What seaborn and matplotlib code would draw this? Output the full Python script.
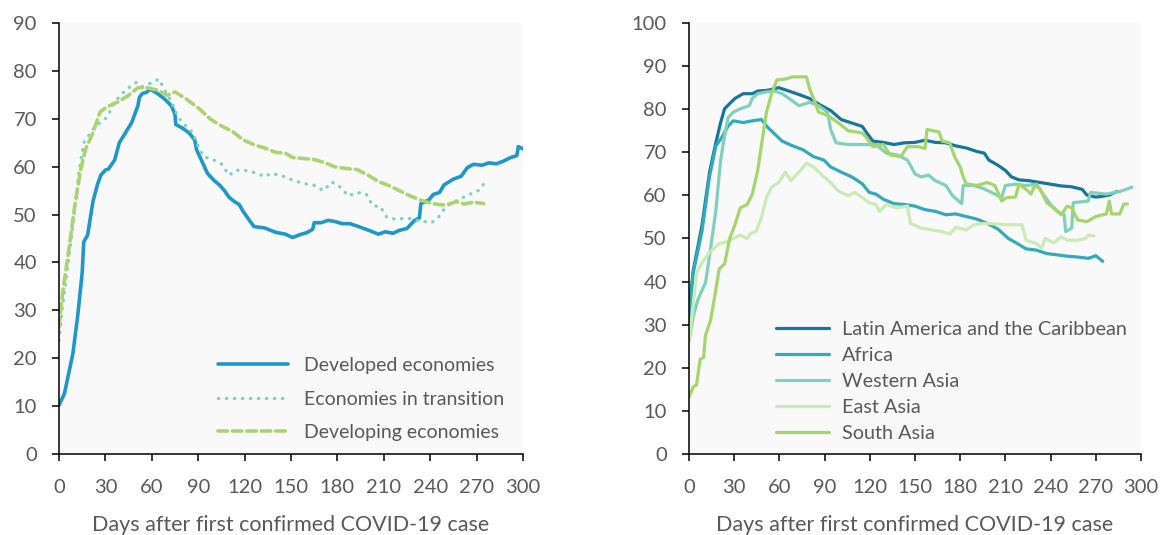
import numpy as np
import pandas as pd
import matplotlib
matplotlib.use("Agg")
import matplotlib.pyplot as plt
import seaborn as sns

# ---------------- Left panel data ----------------
dev_x = [0, 3.5, 9, 12, 15, 16, 18.5, 22, 25, 27, 30, 32, 36, 39, 43, 47, 51, 52, 54, 56.5, 59, 60, 63.5, 68,
         72.7, 75, 75.5, 79.6, 84, 87.7, 89, 92, 96, 100, 104, 107, 110, 113, 116.5, 119, 122, 126, 133, 140,
         146.5, 151, 155.8, 160, 164, 165, 169.6, 174, 179, 183, 188, 192.7, 197, 202, 206.5, 211, 216, 220,
         225, 229.6, 233, 234, 239, 242, 246, 249, 255, 260, 264, 268, 273.5, 278, 282.7, 287, 292, 296, 297, 300]
dev_y = [10.2, 12.6, 21, 28.6, 37.9, 44.3, 45.7, 52.8, 56.4, 58.2, 59.3, 59.5, 61.4, 65, 67.1, 69.2, 72.7, 74.5,
         75.3, 75.5, 76.2, 76, 75.3, 74.2, 72.7, 70.9, 68.8, 68.1, 67.1, 65.6, 63.5, 61.4, 58.6, 57.2, 56.1, 55,
         53.6, 52.8, 52.1, 50.7, 49.3, 47.5, 47.2, 46.3, 45.9, 45.2, 45.8, 46.2, 46.9, 48.3, 48.3, 48.8, 48.5,
         48.1, 48.1, 47.6, 47.1, 46.5, 45.9, 46.4, 46.1, 46.7, 47.1, 48.7, 49.3, 52.3, 53, 54.2, 54.6, 56.2, 57.4,
         58, 59.8, 60.5, 60.3, 60.8, 60.6, 61.1, 61.9, 62.3, 64.2, 63.7]

tra_x = [0, 2.3, 5.8, 9, 12.7, 16, 22, 26.5, 31, 36, 43, 50, 54, 59, 64.6, 68, 72.7, 77, 82, 86.5, 90, 93.5, 100,
         105, 110, 114, 119, 123.5, 128, 133, 137, 144, 151, 158, 165, 171, 176.5, 182, 187, 192.7, 198.5, 203,
         207.7, 212, 218, 225, 231, 241, 246, 250, 257, 264, 271, 275]
tra_y = [23.7, 30.8, 39.3, 47.8, 58.5, 65, 67.8, 69.2, 70.3, 73.5, 76, 77.6, 76.7, 77.4, 78.3, 76.2, 73.5, 70.3,
         68.5, 67.1, 64.2, 62.1, 61.4, 60.6, 58.2, 59.2, 59.3, 59, 58.6, 57.9, 58.6, 58.1, 57.2, 56.5, 56.1, 55,
         56.8, 55.7, 53.9, 54.6, 54.3, 51.8, 51.7, 49.4, 49, 49.3, 48.8, 48.3, 49.7, 51.6, 52.9, 54, 55, 56.5]

dvg_x = [0, 2.3, 5.8, 10, 14, 17, 22, 26.5, 31, 38, 45, 51, 56.5, 63.5, 70, 75, 82, 91, 98, 105, 112, 119, 126,
         133, 140, 146.5, 151, 158, 165, 172, 179, 186, 192.7, 200, 206.5, 213, 220, 227, 234, 241, 248, 252,
         257, 262, 268, 274.6]
dvg_y = [26.5, 33.6, 41.4, 51.4, 59.3, 63.5, 67.1, 71.4, 72.5, 73.5, 74.9, 76.5, 76.5, 76, 74.9, 75.6, 74.2, 72,
         69.9, 68.5, 67.4, 65.6, 64.6, 63.9, 63, 62.8, 61.9, 61.7, 61.5, 60.8, 59.9, 59.6, 59.4, 58.2, 56.9, 56.1,
         55, 53.9, 53, 52.3, 52, 52.2, 52.7, 52.2, 52.6, 52.3]

# ---------------- Right panel data ----------------
lac_x = [0, 2.8, 8.6, 13.6, 17.8, 21, 23.6, 27, 30.5, 36, 42, 45.6, 52.5, 59.5, 66.4, 73, 80, 87, 94, 101, 108,
         115, 118, 122, 129, 136, 143, 150, 156.6, 163.5, 170.5, 177, 184, 191, 196, 199, 205, 210, 214, 219,
         226, 233, 240, 247, 254, 261, 264, 270, 274.6, 279, 284]
lac_y = [33, 42.5, 53, 65.3, 72.2, 76.9, 80.1, 81.3, 82.5, 83.6, 83.6, 84.2, 84.4, 85, 84.2, 83.4, 82.5, 81, 79.7,
         77.6, 76.8, 76, 74.5, 72.6, 72.3, 71.8, 72.2, 72.3, 72.8, 72.3, 72.2, 71.5, 71, 70.2, 69.8, 68.2, 67,
         65.8, 64.3, 63.6, 63.4, 63, 62.6, 62.2, 62, 61.4, 60.1, 59.6, 59.8, 60.1, 60.9]

afr_x = [0, 2.8, 8.6, 13.6, 17.8, 22.4, 26, 29.4, 36, 42, 48, 52.5, 57, 61.8, 68.7, 75.6, 82.6, 89.5, 94, 101,
         108, 115, 119.6, 124, 129, 136, 143, 150, 156.6, 163.5, 170.5, 177, 184, 191, 198, 205, 212, 219,
         223.7, 230.6, 237.5, 244.5, 251, 258, 265, 270, 274.6]
afr_y = [30.2, 42, 51.6, 64.3, 71.4, 73.8, 76.1, 77.3, 76.9, 77.3, 77.6, 75.7, 74.2, 72.6, 71.5, 70.6, 69, 68.2,
         66.6, 65.4, 64.3, 62.7, 60.7, 60.3, 59.1, 58.1, 57.9, 57.5, 56.7, 56.3, 55.5, 55.7, 55.1, 54.5, 53.5,
         52.2, 50, 48.6, 47.6, 47.3, 46.5, 46.2, 45.9, 45.7, 45.4, 46, 44.7]

wa_x = [0, 2.8, 6, 11, 14, 17.8, 21, 23.6, 26, 29.4, 34, 40, 42, 45.6, 51, 57, 61.8, 66.4, 73, 80, 86, 92, 94,
        97.6, 105.7, 115, 124, 131, 138, 145, 150, 154, 159, 163.5, 170.5, 175, 181, 182, 189, 196, 203, 207.5,
        210, 216.7, 223.7, 230.6, 235, 240, 244.5, 249, 250, 254, 255, 265, 266.5, 277, 286, 294]
wa_y = [26.2, 31.9, 35.9, 39.8, 46.9, 56.4, 68.2, 73.8, 78.1, 79.3, 80.1, 80.8, 82.5, 83.6, 84, 84.2, 83.6, 82.5,
        80.8, 81.6, 80.8, 79.3, 75.3, 72.2, 71.8, 71.8, 71.8, 69.8, 69.4, 68.2, 65, 64.3, 64.7, 63.4, 62.3, 59.9,
        58.1, 62.3, 62.3, 61.5, 60.3, 59.5, 62.3, 62.6, 62.3, 62.6, 60.3, 57.9, 56.3, 55.5, 51.6, 52.4, 58.3,
        58.7, 60.7, 60.3, 60.9, 61.9]

ea_x = [0, 2.8, 5, 8.6, 14, 20, 24.7, 29.4, 34, 38.6, 41, 44.4, 48, 51.4, 54.8, 59.5, 64, 67.5, 73, 78, 82.6,
        89.5, 94, 98.8, 105.7, 110, 115, 119.6, 124, 126.5, 131, 138, 145, 147, 154, 161, 168, 173, 177, 184,
        189, 196, 203, 210, 216.7, 221, 223.7, 230.6, 234, 236.4, 242, 247, 251, 258, 263, 265, 268.8]
ea_y = [26, 34.8, 42, 44.4, 46.9, 48.8, 49.2, 50, 50.8, 50, 51.2, 51.6, 54.7, 59.5, 61.9, 63, 65.4, 63.4, 65.4,
        67.5, 66.6, 64.3, 63, 61.1, 59.9, 60.7, 59.5, 58.3, 57.9, 56.3, 57.9, 57.1, 57.5, 53.5, 52.4, 52, 51.6,
        51, 52.6, 52, 53.2, 53.5, 53.4, 53.2, 53.2, 53.2, 49.6, 48.8, 47.8, 50, 49, 50.4, 49.6, 49.6, 50, 50.8,
        50.6]

sa_x = [0, 2.8, 5, 7.4, 9.7, 10.9, 14.3, 16.7, 20, 23.6, 27, 30.5, 34, 38.6, 42, 45.6, 48, 51.4, 54.8, 58.3, 64,
        68.7, 78, 80, 83.7, 86, 89.5, 94, 98.8, 105.7, 115, 118, 122, 129, 133.5, 140.6, 145, 152, 156.6, 158,
        166, 168, 173, 176.3, 180, 182, 184, 191, 198, 203, 207.5, 211, 216.7, 219, 223.7, 227, 229.5, 233,
        237.5, 242, 247, 251, 254, 258, 264, 270, 277, 279, 280.4, 286, 288.5, 291]
sa_y = [13.2, 15.6, 16, 22, 22.4, 27.5, 31, 35.8, 42.9, 44.1, 50, 53.2, 57.1, 57.9, 60.3, 65.8, 71.4, 79.3, 83.6,
        86.8, 87, 87.5, 87.5, 84.8, 81.6, 79.3, 78.9, 78.1, 76.9, 75, 74.5, 73.3, 71.3, 71.8, 69.4, 69, 71.3,
        71.3, 70.9, 75.3, 74.7, 72.6, 72.2, 69, 66.6, 64.3, 62.7, 62.3, 63, 62.3, 58.7, 59.5, 59.6, 62.6, 61.4,
        60.3, 62.3, 61.5, 58.3, 57.1, 55.5, 57.5, 57.1, 54.3, 53.9, 55.1, 55.7, 58.7, 55.7, 55.7, 58, 58]

left_labels = ["Developed economies", "Economies in transition", "Developing economies"]
right_labels = ["Latin America and the Caribbean", "Africa", "Western Asia", "East Asia", "South Asia"]
xticks = [0, 30, 60, 90, 120, 150, 180, 210, 240, 270, 300]
xlabel = "Days after first confirmed COVID-19 case"

# ---------------- Styling ----------------
sns.set_theme(style="ticks")
plt.rcParams["font.family"] = ["Lato", "DejaVu Sans"]
TXT = "#595959"
plt.rcParams.update({
    "axes.facecolor": "#f9f9f9",
    "axes.edgecolor": "black",
    "axes.linewidth": 1.1,
    "xtick.color": "black",
    "ytick.color": "black",
    "xtick.labelcolor": TXT,
    "ytick.labelcolor": TXT,
    "xtick.major.size": 5,
    "ytick.major.size": 5,
    "xtick.major.width": 1.1,
    "ytick.major.width": 1.1,
    "xtick.labelsize": 14.5,
    "ytick.labelsize": 14.5,
})

fig = plt.figure(figsize=(11.66, 5.35), dpi=100)
axL = fig.add_axes([59 / 1166, 1 - 454 / 535, (523 - 59) / 1166, (454 - 23) / 535])
axR = fig.add_axes([689 / 1166, 1 - 454 / 535, (1141 - 689) / 1166, (454 - 23) / 535])

left_series = [(dev_x, dev_y), (tra_x, tra_y), (dvg_x, dvg_y)]
left_colors = ["#1f97c9", "#7dd3c0", "#a9d46f"]
left_styles = ["-", (0, (0.1, 2.3)), (0, (2.6, 1.4))]
left_lw = [2.6, 2.4, 2.6]
for (xs, ys), lab, col, ls, lw in zip(left_series, left_labels, left_colors, left_styles, left_lw):
    df = pd.DataFrame({"day": xs, "value": ys})
    sns.lineplot(data=df, x="day", y="value", ax=axL, color=col, lw=lw, label=lab,
                 linestyle=ls, dash_capstyle="round", solid_capstyle="round", estimator=None, sort=False)

right_series = [(lac_x, lac_y), (afr_x, afr_y), (wa_x, wa_y), (ea_x, ea_y), (sa_x, sa_y)]
right_colors = ["#17769b", "#33a9bc", "#80d0bd", "#c9ebb5", "#a5d56c"]
for (xs, ys), lab, col in zip(right_series, right_labels, right_colors):
    df = pd.DataFrame({"day": xs, "value": ys})
    sns.lineplot(data=df, x="day", y="value", ax=axR, color=col, lw=2.3, label=lab,
                 estimator=None, sort=False, solid_capstyle="round")

for ax, ymax in [(axL, 90), (axR, 100)]:
    ax.set_xlim(0, 300)
    ax.set_ylim(0, ymax)
    ax.set_xticks(xticks)
    ax.set_yticks(np.arange(0, ymax + 1, 10))
    ax.set_xlabel(xlabel, fontsize=15.5, color=TXT, labelpad=14)
    ax.set_ylabel("")
    ax.tick_params(axis="x", pad=13)
    ax.tick_params(axis="y", pad=11)
    ax.spines["top"].set_visible(False)
    ax.spines["right"].set_visible(False)
    ax.grid(False)

legL = axL.legend(loc="lower left", bbox_to_anchor=(0.343, 0.03), frameon=False, fontsize=14,
                  handlelength=3.6, handletextpad=0.8, labelspacing=0.85, labelcolor=TXT,
                  borderpad=0, borderaxespad=0)
legR = axR.legend(loc="lower left", bbox_to_anchor=(0.192, 0.028), frameon=False, fontsize=14.3,
                  handlelength=2.7, handletextpad=0.65, labelspacing=0.45, labelcolor=TXT,
                  borderpad=0, borderaxespad=0)

fig.savefig("out.png", dpi=100)
